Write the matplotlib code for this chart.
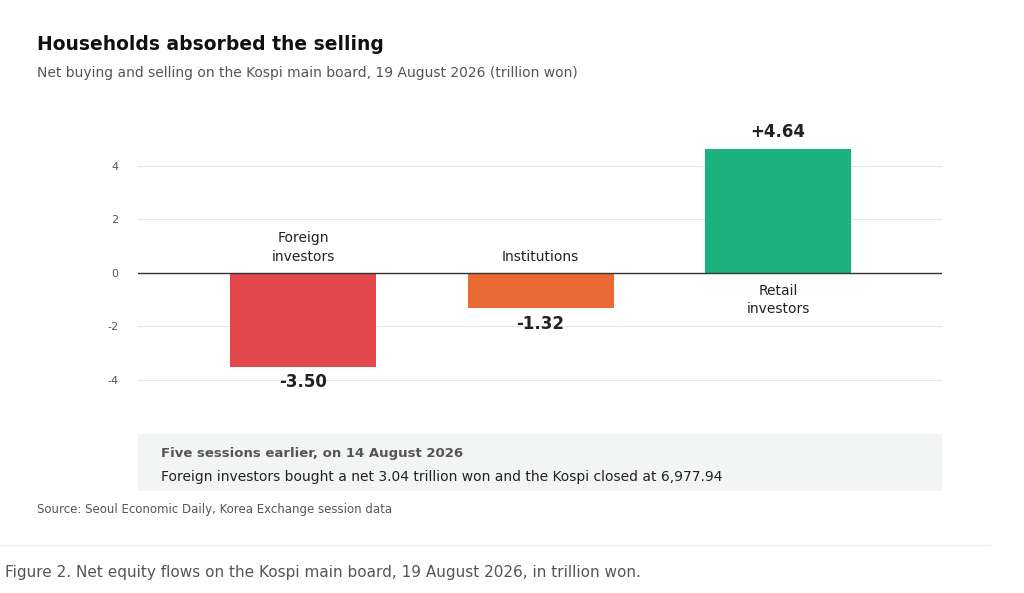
import matplotlib.pyplot as plt
from matplotlib.patches import Rectangle
from matplotlib.lines import Line2D

categorias = ['Foreign\ninvestors', 'Institutions', 'Retail\ninvestors']
valores = [-3.50, -1.32, 4.64]
etiquetas = ['-3.50', '-1.32', '+4.64']
colores = ['#E2474B', '#E96A35', '#1DB17F']
ticks_y = [-4, -2, 0, 2, 4]

W, H = 1024, 593
fig = plt.figure(figsize=(W / 100, H / 100), dpi=100)
fig.patch.set_facecolor('white')

def fx(px):
    return px / W

def fy(py):
    return 1 - py / H

ax = fig.add_axes([fx(138), fy(400), fx(942) - fx(138), fy(119) - fy(400)])
x = list(range(len(valores)))
ax.bar(x, valores, width=0.615, color=colores, zorder=2)
ax.set_xlim(-0.695, 2.69)
ax.set_ylim(-4.75, 5.75)
ax.set_yticks(ticks_y)
ax.set_yticklabels([str(t) for t in ticks_y], color='#555555', fontsize=8)
ax.set_xticks([])
ax.tick_params(axis='y', length=0, pad=14)
for s in ax.spines.values():
    s.set_visible(False)
for t in ticks_y:
    if t != 0:
        ax.axhline(t, color='#E6E6E6', lw=0.8, zorder=1)
ax.axhline(0, color='#333333', lw=1.0, zorder=3)

for xi, v, cat, lab in zip(x, valores, categorias, etiquetas):
    if v < 0:
        ax.text(xi, 0.35, cat, ha='center', va='bottom', fontsize=10, color='#222222', linespacing=1.4)
        ax.text(xi, v - 0.25, lab, ha='center', va='top', fontsize=12, fontweight='bold', color='#222222')
    else:
        ax.text(xi, -0.4, cat, ha='center', va='top', fontsize=10, color='#222222', linespacing=1.4)
        ax.text(xi, v + 0.3, lab, ha='center', va='bottom', fontsize=12, fontweight='bold', color='#222222')

fig.text(fx(37), fy(45), 'Households absorbed the selling', fontsize=13.5, fontweight='bold',
         color='#111111', va='center')
fig.text(fx(37), fy(73), 'Net buying and selling on the Kospi main board, 19 August 2026 (trillion won)',
         fontsize=10, color='#555555', va='center')

fig.patches.append(Rectangle((fx(138), fy(491)), fx(942) - fx(138), fy(434) - fy(491),
                             transform=fig.transFigure, facecolor='#F3F4F4', edgecolor='none'))
fig.text(fx(161), fy(454), 'Five sessions earlier, on 14 August 2026', fontsize=9.5,
         fontweight='bold', color='#555555', va='center')
fig.text(fx(161), fy(477), 'Foreign investors bought a net 3.04 trillion won and the Kospi closed at 6,977.94',
         fontsize=10, color='#222222', va='center')
fig.text(fx(37), fy(510), 'Source: Seoul Economic Daily, Korea Exchange session data', fontsize=8.5,
         color='#555555', va='center')

fig.lines.append(Line2D([0, fx(990)], [fy(545), fy(545)], transform=fig.transFigure,
                        color='#EEEEEE', lw=1))
fig.text(fx(5), fy(573), 'Figure 2. Net equity flows on the Kospi main board, 19 August 2026, in trillion won.',
         fontsize=11, color='#555555', va='center')

fig.savefig('out.png', dpi=100)
